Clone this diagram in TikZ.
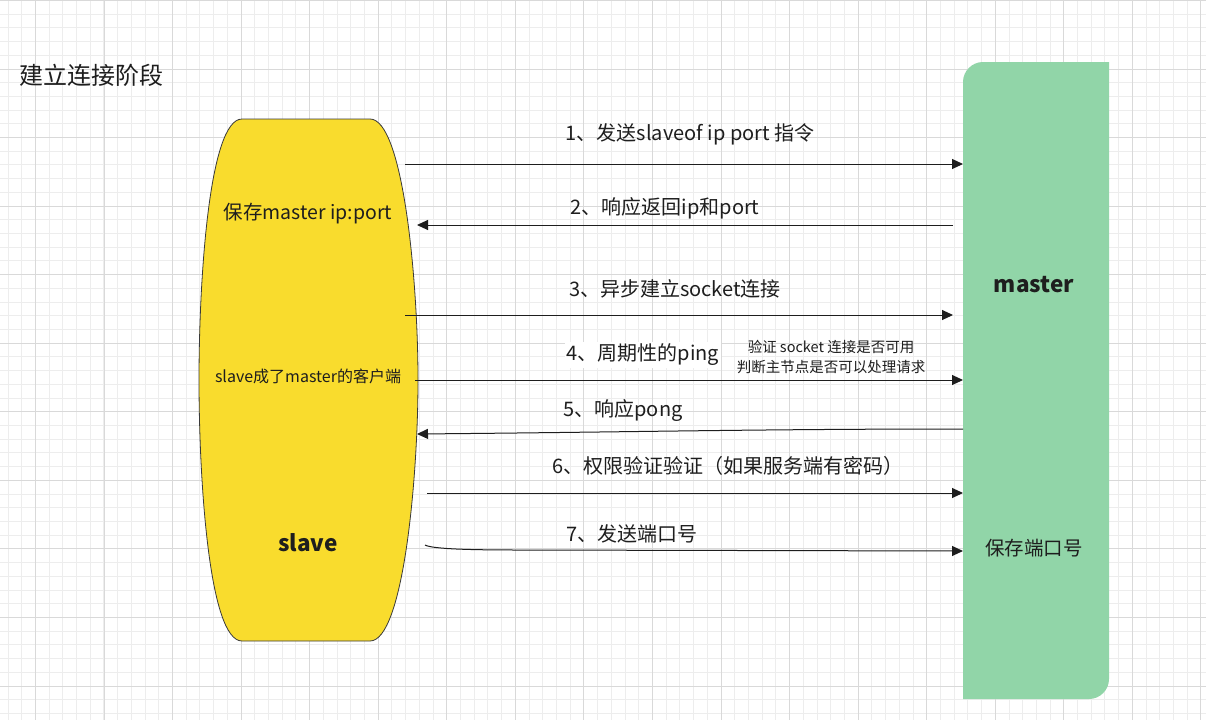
\documentclass[tikz,border=0pt]{standalone}
\usepackage{fontspec}
\setmainfont{Noto Sans CJK SC}
\usetikzlibrary{arrows.meta}

\definecolor{slaveyellow}{HTML}{F9DC2D}
\definecolor{slaveedge}{HTML}{3A3A3A}
\definecolor{mastergreen}{HTML}{91D5A8}
\definecolor{ink}{HTML}{1E1E1E}
\definecolor{minorline}{HTML}{EDEDED}
\definecolor{majorline}{HTML}{D9D9D9}

\begin{document}
\begin{tikzpicture}[
    x=1pt, y=-1pt,
    minor/.style={draw=minorline, line width=1pt},
    major/.style={draw=majorline, line width=1pt},
    msg/.style={draw=ink, line width=1pt, -{Triangle[length=11pt,width=10pt]}},
    msglabel/.style={font=\fontsize{20}{23}\selectfont, text=ink, inner sep=2pt},
    body/.style={font=\fontsize{19.5}{23}\selectfont, text=ink},
    small/.style={font=\fontsize{16}{19}\selectfont, text=ink},
    role/.style={font=\fontsize{22.5}{26}\selectfont\bfseries, text=ink},
    note/.style={font=\fontsize{14.5}{20}\selectfont, text=ink, align=center}
]
\useasboundingbox (0,0) rectangle (1206,720);

% grid
\begin{scope}
\clip (0,0) rectangle (1206,720);
\fill[white] (0,0) rectangle (1206,720);
\foreach \i in {0,...,89}
    \draw[minor] ({-5.7+13.712*\i},0) -- ({-5.7+13.712*\i},720);
\foreach \j in {0,...,52}
    \draw[minor] (0,{0.44+13.712*\j}) -- (1206,{0.44+13.712*\j});
\foreach \i in {0,...,17}
    \draw[major] ({35.44+68.56*\i},0) -- ({35.44+68.56*\i},720);
\foreach \j in {0,...,10}
    \draw[major] (0,{0.44+68.56*\j}) -- (1206,{0.44+68.56*\j});
\end{scope}

% slave
\filldraw[fill=slaveyellow, draw=slaveedge, line width=0.8pt]
    (242,119) -- (370,119) .. controls (403,119) and (418,280) .. (418,380)
    .. controls (418,480) and (403,641) .. (370,641) -- (242,641)
    .. controls (209,641) and (199,480) .. (199,380)
    .. controls (199,280) and (209,119) .. (242,119) -- cycle;

% master
\fill[mastergreen] (963,699) -- (963,82) .. controls (963,71) and (972,62) .. (983,62)
    -- (1109,62) -- (1109,679) .. controls (1109,690) and (1100,699) .. (1089,699) -- cycle;

\node (title) [anchor=west, font=\fontsize{24}{27}\selectfont, text=ink] at (16,75) {建立连接阶段};

\node (saveaddr) [body] at (308,214) {保存master ip:port};
\node (client) [small] at (308,376) {slave成了master的客户端};
\node (slavename) [role] at (308,543) {slave};
\node (mastername) [role] at (1034,285) {master};
\node (saveport) [body] at (1034,548) {保存端口号};

\node (l1) [msglabel] at (690,134) {1、发送slaveof ip port 指令};
\node (l2) [msglabel] at (665,208) {2、响应返回ip和port};
\node (l3) [msglabel] at (675,289) {3、异步建立socket连接};
\node (l4) [msglabel, fill=white] at (643,355) {4、周期性的ping};
\node (n4) [note] at (831,357) {验证 socket 连接是否可用\\判断主节点是否可以处理请求};
\node (l5) [msglabel] at (623,411) {5、响应pong};
\node (l6) [msglabel] at (728,466) {6、权限验证验证（如果服务端有密码）};
\node (l7) [msglabel] at (632,534) {7、发送端口号};

\coordinate (s1) at (405,164);
\coordinate (m1) at (963,164);
\coordinate (m2) at (953,225);
\coordinate (s2) at (417,225);
\coordinate (s3) at (405,315);
\coordinate (m3) at (953,315);
\coordinate (s4) at (415,380);
\coordinate (m4) at (963,380);
\coordinate (m5) at (963,429);
\coordinate (s5) at (417,434);
\coordinate (s6) at (427,493);
\coordinate (m6) at (963,493);
\coordinate (s7) at (425,545);
\coordinate (m7) at (963,551);

\draw [msg] (s1) -- (m1);
\draw [msg] (m2) -- (s2);
\draw [msg] (s3) -- (m3);
\draw [msg] (s4) -- (m4);
\draw [msg] (m5) .. controls (760,429) and (640,432) .. (s5);
\draw [msg] (s6) -- (m6);
\draw [msg] (s7) .. controls (432,549) and (470,550) .. (520,550) -- (m7);

\end{tikzpicture}
\end{document}
